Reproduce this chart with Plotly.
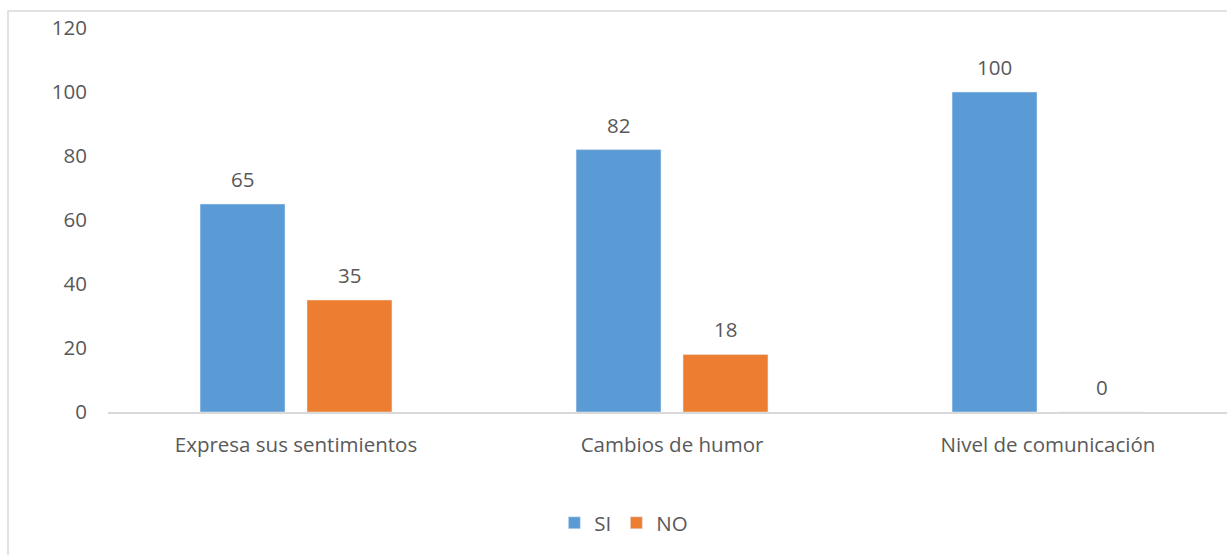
import plotly.graph_objects as go

categories = ["Expresa sus sentimientos", "Cambios de humor", "Nivel de comunicación"]
si_values = [65, 82, 100]
no_values = [35, 18, 0]
y_ticks = [0, 20, 40, 60, 80, 100, 120]

BLUE = "#5B9BD5"
ORANGE = "#ED7D31"
TEXT = "#595959"
FONT = "Open Sans"
FS = 20.5

fig = go.Figure()
fig.add_trace(go.Bar(name="SI", x=categories, y=si_values, marker_color=BLUE))
fig.add_trace(go.Bar(name="NO", x=categories, y=no_values, marker_color=ORANGE))

# value labels above each bar
annotations = []
for k, vals in enumerate([si_values, no_values]):
    for i, v in enumerate(vals):
        annotations.append(dict(
            x=i, y=v, xref="x", yref="y", text=str(v), showarrow=False,
            xshift=(-0.5 + k) * 107, yshift=9, yanchor="bottom",
            font=dict(family=FONT, size=FS, color=TEXT)))

fig.update_layout(
    width=1227, height=555,
    margin=dict(l=108, r=0, t=28, b=143),
    paper_bgcolor="white", plot_bgcolor="white",
    barmode="group", bargap=0.431, bargroupgap=0.206,
    font=dict(family=FONT, size=FS, color=TEXT),
    showlegend=True,
    legend=dict(orientation="h", x=0.461, xanchor="center", y=-0.289,
                yanchor="middle", font=dict(family=FONT, size=FS, color=TEXT),
                itemwidth=30, tracegroupgap=0),
    annotations=annotations,
    shapes=[dict(type="rect", xref="paper", yref="paper",
                 x0=(8 - 108) / 1119, x1=1.02, y0=-0.5, y1=(412 - 11) / 384,
                 line=dict(color="#d9d9d9", width=1.5), layer="below")],
)
fig.update_xaxes(range=[-0.5, 2.476], showgrid=False, showline=True,
                 linecolor="#d9d9d9", linewidth=1.5, ticks="",
                 ticklabelstandoff=14,
                 tickfont=dict(family=FONT, size=FS, color=TEXT))
fig.update_yaxes(range=[0, 120], tickvals=y_ticks, showgrid=False,
                 zeroline=False, showline=False, ticklabelstandoff=20,
                 tickfont=dict(family=FONT, size=FS, color=TEXT))

fig.write_html("out.html")
